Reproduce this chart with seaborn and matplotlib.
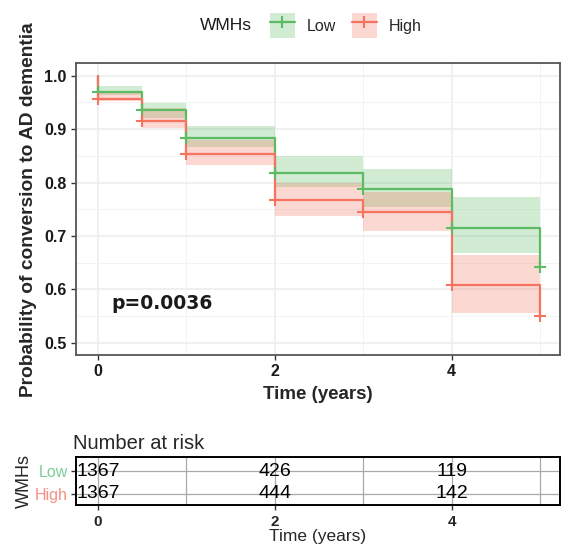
import numpy as np
import pandas as pd
import seaborn as sns
import matplotlib
matplotlib.use("Agg")
import matplotlib.pyplot as plt
from matplotlib.patches import Patch
from matplotlib.lines import Line2D

# ---------------- data ----------------
groups = ["Low", "High"]
step_times = [0, 0, 0.5, 1, 2, 3, 4, 5]
surv_low = [1.0, 0.969, 0.936, 0.884, 0.817, 0.787, 0.715, 0.641]
surv_high = [1.0, 0.957, 0.916, 0.854, 0.767, 0.744, 0.608, 0.550]

band_times = [0, 0.5, 1, 2, 3, 4, 5]
upper_low = [0.980, 0.949, 0.905, 0.850, 0.825, 0.772]
lower_low = [0.963, 0.921, 0.866, 0.792, 0.755, 0.668]
upper_high = [0.972, 0.940, 0.879, 0.800, 0.783, 0.665]
lower_high = [0.952, 0.902, 0.833, 0.737, 0.710, 0.556]

risk_times = [0, 2, 4]
risk_low = [1367, 426, 119]
risk_high = [1367, 444, 142]

p_text = "p=0.0036"

colors = {"Low": "#5DBB63", "High": "#F6735F"}
label_colors = {"Low": "#7DCB95", "High": "#F78F86"}

# ---------------- style ----------------
sns.set_theme(style="whitegrid")
plt.rcParams["font.family"] = ["Liberation Sans", "DejaVu Sans"]

fig = plt.figure(figsize=(5.61, 5.44), dpi=100)
ax = fig.add_axes([0.135, 0.3474, 0.863, 0.536])
axt = fig.add_axes([0.135, 0.0708, 0.863, 0.0892])

# curves
curve_df = pd.concat([
    pd.DataFrame({"time": step_times, "surv": surv_low, "group": "Low"}),
    pd.DataFrame({"time": step_times, "surv": surv_high, "group": "High"}),
], ignore_index=True)

sns.lineplot(data=curve_df, x="time", y="surv", hue="group", hue_order=groups,
             palette=colors, drawstyle="steps-post", estimator=None, sort=False,
             linewidth=1.6, legend=False, ax=ax)

# confidence bands
for g, up, lo in [("Low", upper_low, lower_low), ("High", upper_high, lower_high)]:
    ax.fill_between(band_times, up + [up[-1]], lo + [lo[-1]], step="post",
                    color=colors[g], alpha=0.28, linewidth=0, zorder=1)

# censor marks
marks_df = curve_df[curve_df["surv"] < 1.0]
sns.scatterplot(data=marks_df, x="time", y="surv", hue="group", hue_order=groups,
                palette=colors, marker="+", s=75, linewidth=1.5, legend=False,
                ax=ax, zorder=4)

ax.set_xlim(-0.249, 5.223)
ax.set_ylim(0.477, 1.023)
ax.set_xticks([0, 2, 4])
ax.set_xticks([1, 3, 5], minor=True)
ax.set_yticks([0.5, 0.6, 0.7, 0.8, 0.9, 1.0])
ax.set_yticks([0.55, 0.65, 0.75, 0.85, 0.95], minor=True)
ax.set_yticklabels(["0.5", "0.6", "0.7", "0.8", "0.9", "1.0"])
ax.grid(True, which="major", color="#EBEEEE", linewidth=1.1)
ax.grid(True, which="minor", color="#F2F4F4", linewidth=0.7)
ax.set_facecolor("white")
for s in ax.spines.values():
    s.set_color("#555555")
    s.set_linewidth(1.3)
ax.tick_params(axis="both", which="major", length=3.5, width=1, color="#333333",
               labelsize=11.5, pad=3, bottom=True, left=True)
ax.tick_params(axis="both", which="minor", length=0)
for lab in ax.get_xticklabels() + ax.get_yticklabels():
    lab.set_fontweight("bold")
    lab.set_color("#1a1a1a")
ax.set_xlabel("Time (years)", fontsize=13.5, fontweight="bold", labelpad=5)
ax.set_ylabel("Probability of conversion to AD dementia", fontsize=13.8,
              fontweight="bold", labelpad=5)

ax.text(0.15, 0.5625, p_text, fontsize=13.5, fontweight="bold",
        family="DejaVu Sans", color="#1a1a1a", ha="left", va="baseline")

# legend
fig.text(0.357, 0.953, "WMHs", fontsize=12.5, ha="left", va="center", color="#1a1a1a")
handles = [(Patch(facecolor=colors[g], alpha=0.28, linewidth=0),
            Line2D([], [], color=colors[g], marker="+", markersize=9,
                   markeredgewidth=1.5, linewidth=1.6)) for g in groups]
fig.legend(handles, groups, loc="center left", bbox_to_anchor=(0.455, 0.953),
           ncol=2, frameon=False, fontsize=11.5, handlelength=1.6,
           handleheight=2.0, handletextpad=0.7, columnspacing=1.0)

# risk table
axt.set_xlim(-0.249, 5.223)
axt.set_ylim(-0.53, 1.65)
for yv, counts in [(1, risk_low), (0, risk_high)]:
    for t, n in zip(risk_times, counts):
        axt.text(t, yv, str(n), ha="center", va="center", fontsize=14,
                 color="black")
axt.set_yticks([1, 0])
axt.set_yticklabels(groups)
for lab, g in zip(axt.get_yticklabels(), groups):
    lab.set_color(label_colors[g])
axt.set_xticks([0, 2, 4])
axt.set_xticks([1, 3, 5], minor=True)
axt.grid(True, which="both", axis="x", color="#AAAAAA", linewidth=0.9)
axt.grid(True, which="major", axis="y", color="#AAAAAA", linewidth=0.9)
axt.set_facecolor("white")
for s in axt.spines.values():
    s.set_color("black")
    s.set_linewidth(1.4)
axt.tick_params(axis="both", which="major", length=3.5, width=1, color="#333333",
                bottom=True, left=True, pad=2)
axt.tick_params(axis="x", labelsize=11, pad=3)
axt.tick_params(axis="y", labelsize=11.5)
axt.tick_params(axis="both", which="minor", length=0)
for lab in axt.get_xticklabels():
    lab.set_fontweight("bold")
axt.set_xlabel("Time (years)", fontsize=12.5, labelpad=0)
axt.set_ylabel("WMHs", fontsize=13, labelpad=2)
axt.set_title("Number at risk", loc="left", fontsize=14.5, pad=6, x=-0.005)

fig.savefig("out.png", dpi=100)
